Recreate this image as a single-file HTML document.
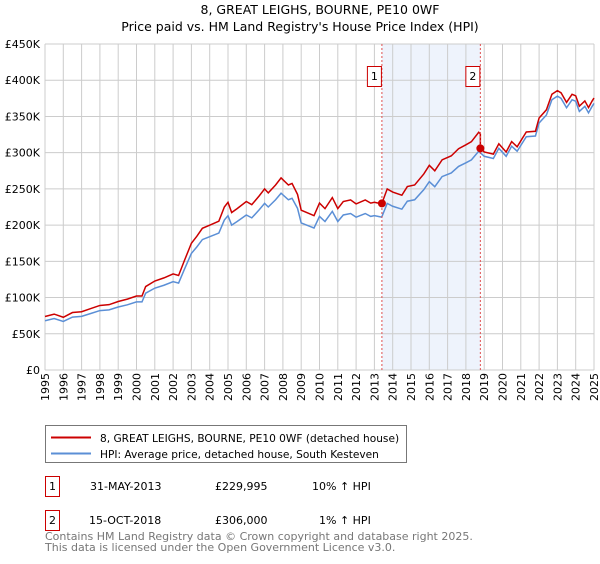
<!DOCTYPE html>
<html><head><meta charset="utf-8"><style>
body{margin:0;width:600px;height:560px;background:#fff;font-family:"DejaVu Sans","Liberation Sans",sans-serif;overflow:hidden}
svg text{font-family:"DejaVu Sans","Liberation Sans",sans-serif}
</style></head><body>
<svg id="c" width="600" height="560">
<text x="320" y="14" text-anchor="middle" font-size="12.5">8, GREAT LEIGHS, BOURNE, PE10 0WF</text>
<text x="300" y="31" text-anchor="middle" font-size="12.5">Price paid vs. HM Land Registry's House Price Index (HPI)</text>
<g id="plot"></g>
<g>
<rect x="45.5" y="425.5" width="361" height="37" fill="#fff" stroke="#777"/>
<line x1="51" y1="437.5" x2="91" y2="437.5" stroke="#cc0000" stroke-width="2"/>
<text x="100" y="442" font-size="10.6">8, GREAT LEIGHS, BOURNE, PE10 0WF (detached house)</text>
<line x1="51" y1="453.5" x2="91" y2="453.5" stroke="#5b8fd6" stroke-width="2"/>
<text x="100" y="458" font-size="10.6">HPI: Average price, detached house, South Kesteven</text>
</g>
<g font-size="11">
<rect x="45.5" y="476.5" width="14" height="20" fill="#fff" stroke="#cc0000"/>
<text x="52.5" y="490" text-anchor="middle">1</text>
<text x="90" y="490">31-MAY-2013</text><text x="215" y="490">£229,995</text><text x="312" y="490">10% ↑ HPI</text>
<rect x="45.5" y="510.5" width="14" height="20" fill="#fff" stroke="#cc0000"/>
<text x="52.5" y="524" text-anchor="middle">2</text>
<text x="89" y="524">15-OCT-2018</text><text x="215" y="524">£306,000</text><text x="319" y="524">1% ↑ HPI</text>
</g>
<text x="45" y="540" font-size="11" fill="#777">Contains HM Land Registry data © Crown copyright and database right 2025.</text>
<text x="45" y="551" font-size="11" fill="#777">This data is licensed under the Open Government Licence v3.0.</text>
</svg>
<script>
const hpiYears=[1995.0,1995.5,1996.0,1996.5,1997.0,1997.5,1998.0,1998.5,1999.0,1999.5,2000.0,2000.3,2000.5,2001.0,2001.5,2002.0,2002.3,2002.6,2003.0,2003.3,2003.6,2004.0,2004.5,2004.8,2005.0,2005.2,2005.5,2006.0,2006.3,2006.7,2007.0,2007.2,2007.6,2007.9,2008.3,2008.5,2008.8,2009.0,2009.5,2009.7,2010.0,2010.3,2010.7,2011.0,2011.3,2011.7,2012.0,2012.5,2012.8,2013.0,2013.4,2013.7,2014.0,2014.5,2014.8,2015.2,2015.7,2016.0,2016.3,2016.7,2017.2,2017.6,2018.0,2018.3,2018.7,2019.0,2019.5,2019.8,2020.2,2020.5,2020.8,2021.3,2021.8,2022.0,2022.4,2022.7,2023.0,2023.2,2023.5,2023.8,2024.0,2024.2,2024.5,2024.7,2024.9,2025.0];
const hpiValues=[68,71,67,73,74,78,82,83,87,90,94,94,106,113,117,122,120,138,161,170,180,184,189,207,213,200,205,214,210,221,230,225,235,244,235,237,223,203,198,196,212,205,219,205,214,216,211,216,212,213,211,230,226,222,233,235,249,260,253,267,272,281,286,290,302,295,292,306,295,309,302,322,323,341,352,373,378,375,362,373,371,357,364,355,364,368];
const saleDates=[2013.41,2018.79];
const salePrices=[229995,306000];
const saleLabels=["1","2"];
const yTicks=[0,50,100,150,200,250,300,350,400,450];
const yTickLabels=["£0","£50K","£100K","£150K","£200K","£250K","£300K","£350K","£400K","£450K"];
const ns="http://www.w3.org/2000/svg";
const X0=45,X1=594,Y0=370,Y1=44;
const xs=y=>X0+(y-1995)/30*(X1-X0);
const ys=v=>Y0-v/450*(Y0-Y1);
const g=document.getElementById('plot');
function mk(t,a,p){const e=document.createElementNS(ns,t);for(const k in a)e.setAttribute(k,a[k]);(p||g).appendChild(e);return e;}
mk('rect',{x:X0,y:Y1,width:X1-X0,height:Y0-Y1,fill:'#fff'});
const sh=mk('rect',{x:xs(saleDates[0]),y:Y1,width:xs(saleDates[1])-xs(saleDates[0]),height:Y0-Y1,fill:'#eef3fc'});


for(let yr=1995;yr<=2025;yr++){
 const gl=mk('line',{x1:xs(yr),x2:xs(yr),y1:Y1,y2:Y0,stroke:'#ccc','stroke-width':1});
 
 
 const t=mk('text',{transform:`translate(${xs(yr)+4},${Y0+31}) rotate(-90)`,'font-size':11});
 t.textContent=yr;
 
 
}
yTicks.forEach((v,i)=>{
 const gl=mk('line',{x1:X0,x2:X1,y1:ys(v),y2:ys(v),stroke:'#ccc','stroke-width':1});
 
 
 const t=mk('text',{x:X0-5,y:ys(v)+4,'text-anchor':'end','font-size':11});
 t.textContent=yTickLabels[i];
 
 
});
function hpiAt(d){for(let i=1;i<hpiYears.length;i++){if(d<=hpiYears[i]){const f=(d-hpiYears[i-1])/(hpiYears[i]-hpiYears[i-1]);return hpiValues[i-1]+f*(hpiValues[i]-hpiValues[i-1]);}}return hpiValues[hpiValues.length-1];}
const r1=salePrices[0]/1000/hpiAt(saleDates[0]), r2=salePrices[1]/1000/hpiAt(saleDates[1]);
const hp=hpiYears.map((y,i)=>xs(y)+','+ys(hpiValues[i])).join(' ');
const hl=mk('polyline',{points:hp,fill:'none',stroke:'#5b8fd6','stroke-width':1.5});


const rp=[];
hpiYears.forEach((y,i)=>{
 if(i>0&&hpiYears[i-1]<saleDates[1]&&y>=saleDates[1]){rp.push(xs(saleDates[1])+','+ys(hpiAt(saleDates[1])*r1));rp.push(xs(saleDates[1])+','+ys(salePrices[1]/1000));}
 rp.push(xs(y)+','+ys(hpiValues[i]*(y<saleDates[1]?r1:r2)));
});
const rl=mk('polyline',{points:rp.join(' '),fill:'none',stroke:'#cc0000','stroke-width':1.5});


saleDates.forEach((d,i)=>{
 const vl=mk('line',{x1:xs(d),x2:xs(d),y1:Y1,y2:Y0,stroke:'#e05050','stroke-width':1,'stroke-dasharray':'2,2'});
 
 
 const pt=mk('circle',{cx:xs(d),cy:ys(salePrices[i]/1000),r:4,fill:'#cc0000'});
 
 
 const b=mk('rect',{x:xs(d)-14.5,y:66.5,width:14,height:20,fill:'#fff',stroke:'#cc0000'});
 
 
 const t=mk('text',{x:xs(d)-7.5,y:80,'text-anchor':'middle','font-size':11});
 t.textContent=saleLabels[i];
 
 
});
</script>
</body></html>
